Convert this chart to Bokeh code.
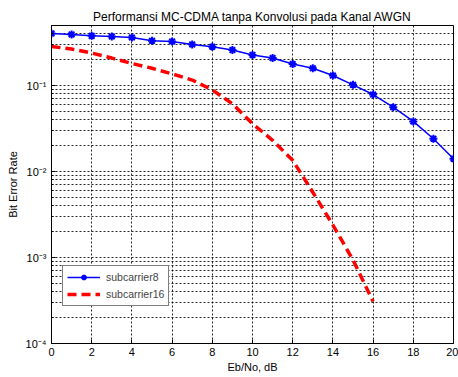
from bokeh.plotting import figure
from bokeh.models import Range1d, FixedTicker, Legend
from bokeh.embed import file_html
from bokeh.resources import INLINE

ebno8 = list(range(0, 21))
ber8 = [0.404, 0.393, 0.379, 0.373, 0.363, 0.332, 0.326, 0.301, 0.283, 0.259, 0.227,
        0.209, 0.178, 0.159, 0.131, 0.102, 0.0787, 0.0561, 0.0383, 0.0241, 0.0141]
ebno16 = list(range(0, 17))
ber16 = [0.285, 0.266, 0.239, 0.209, 0.181, 0.159, 0.137, 0.116, 0.0891, 0.0614, 0.036,
         0.0231, 0.0135, 0.00575, 0.00239, 0.000937, 0.000308]
x_ticks = [0, 2, 4, 6, 8, 10, 12, 14, 16, 18, 20]
y_major = [1e-4, 1e-3, 1e-2, 1e-1]
y_labels = ["10\u207b\u2074", "10\u207b\u00b3", "10\u207b\u00b2", "10\u207b\u00b9"]

FONT = "Liberation Sans"

p = figure(width=458, height=377, y_axis_type="log", output_backend="svg",
           toolbar_location=None, x_range=Range1d(0, 20), y_range=Range1d(1e-4, 0.5),
           min_border_left=51, min_border_right=5, min_border_top=25, min_border_bottom=34)
p.background_fill_color = "white"
p.border_fill_color = "white"
p.outline_line_color = "black"
p.outline_line_width = 1

p.title.text = "Performansi MC-CDMA tanpa Konvolusi pada Kanal AWGN"
p.title.align = "center"
p.title.text_font = FONT
p.title.text_font_size = "12px"
p.title.text_font_style = "normal"
p.title.text_color = "black"
p.title.standoff = 4

minor = []
for k in range(-4, 0):
    for i in range(2, 10):
        v = i * 10.0 ** k
        if v <= 0.5:
            minor.append(v)
yticker = FixedTicker(ticks=y_major, minor_ticks=minor)
xticker = FixedTicker(ticks=x_ticks)

p.xaxis.ticker = xticker
p.yaxis.ticker = yticker
p.yaxis.major_label_overrides = {t: l for t, l in zip(y_major, y_labels)}

for ax in [p.xaxis[0], p.yaxis[0]]:
    ax.axis_line_color = "black"
    ax.major_tick_in = 4
    ax.major_tick_out = 0
    ax.minor_tick_in = 2
    ax.minor_tick_out = 0
    ax.major_tick_line_color = "black"
    ax.minor_tick_line_color = "black"
    ax.major_label_text_font = FONT
    ax.major_label_text_font_size = "11px"
    ax.major_label_text_color = "black"
    ax.axis_label_text_font = FONT
    ax.axis_label_text_font_size = "11px"
    ax.axis_label_text_font_style = "normal"
    ax.axis_label_text_color = "black"

p.xaxis.axis_label = "Eb/No, dB"
p.yaxis.axis_label = "Bit Error Rate"
p.xaxis.major_label_standoff = 4
p.xaxis.axis_label_standoff = 2
p.yaxis.major_label_standoff = 5
p.yaxis.axis_label_standoff = 4

p.xgrid.ticker = xticker
p.ygrid.ticker = yticker
for g in [p.xgrid[0], p.ygrid[0]]:
    g.grid_line_color = "black"
    g.grid_line_dash = "2 2"
    g.grid_line_width = 1
    g.grid_line_alpha = 0.85
p.ygrid.minor_grid_line_color = "black"
p.ygrid.minor_grid_line_dash = "2 2"
p.ygrid.minor_grid_line_alpha = 0.85

r1 = p.line(ebno8, ber8, line_color="blue", line_width=1.5)
r1m = p.scatter(ebno8, ber8, marker="asterisk", size=8, line_color="blue", line_width=2)
r2 = p.line(ebno16, ber16, line_color="red", line_width=3.5, line_dash="9 5")

legend = Legend(items=[("subcarrier8", [r1, r1m]), ("subcarrier16", [r2])],
                location=(11, 37), border_line_color="black", border_line_width=1,
                background_fill_color="white", background_fill_alpha=1,
                label_text_font=FONT, label_text_font_size="10.5px",
                glyph_width=33, glyph_height=14, spacing=3, padding=4, margin=0,
                label_standoff=6)
p.add_layout(legend, "center")

open("out.html", "w").write(file_html(p, INLINE))
